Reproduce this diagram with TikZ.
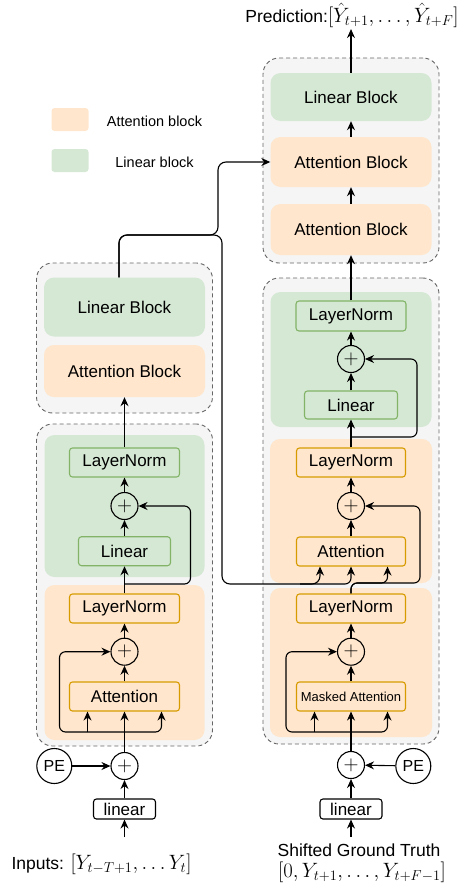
\documentclass[tikz,border=0pt]{standalone}
\usepackage{amsmath,amssymb}
\usepackage[no-math]{fontspec}
\setmainfont{Liberation Sans}
\usepackage{xcolor}
\usepackage{tikz}
\usetikzlibrary{positioning,shapes,arrows,arrows.meta}
\definecolor{attfill}{HTML}{FFE6CC}
\definecolor{attline}{HTML}{D79B00}
\definecolor{linfill}{HTML}{D5E8D4}
\definecolor{linline}{HTML}{82B366}
\definecolor{grpfill}{HTML}{F5F5F5}
\definecolor{grpline}{HTML}{666666}
\newcommand{\bigmath}[1]{{\fontsize{21}{24}\selectfont$#1$}}

\begin{document}
\begin{tikzpicture}[x=1pt, y=-1pt, >={Stealth[length=9pt,width=8pt,inset=3pt]},
    group/.style={rectangle, draw=grpline, fill=grpfill, dash pattern=on 4pt off 3pt, line width=0.9pt, rounded corners=16pt, inner sep=0pt},
    panel/.style={rectangle, rounded corners=10pt, inner sep=0pt, font=\fontsize{17}{20}\selectfont},
    attpanel/.style={panel, fill=attfill},
    linpanel/.style={panel, fill=linfill},
    box/.style={rectangle, draw, rounded corners=3pt, line width=1.1pt, inner sep=0pt, font=\fontsize{17}{20}\selectfont},
    attbox/.style={box, draw=attline, fill=attfill},
    linbox/.style={box, draw=linline, fill=linfill},
    add/.style={circle, draw, line width=1.1pt, minimum size=27pt, inner sep=0pt, font=\fontsize{22}{22}\selectfont},
    pe/.style={circle, draw, line width=1.1pt, minimum size=35pt, inner sep=0pt, font=\fontsize{16}{18}\selectfont},
    inbox/.style={box, fill=white, minimum width=62pt, minimum height=20pt},
    txt/.style={inner sep=1pt, anchor=base, font=\fontsize{17.5}{20}\selectfont},
    legtxt/.style={inner sep=1pt, font=\fontsize{14.5}{17}\selectfont},
    wire/.style={line width=1.1pt, rounded corners=6pt}]
    \useasboundingbox (0,0) rectangle (468,889);

    \node [group, minimum width=176pt, minimum height=205pt] (tgrp) at (351,160.5) {};
    \node [linpanel, minimum width=161pt, minimum height=48pt] (tlin) at (351,97) {Linear Block};
    \node [attpanel, minimum width=161pt, minimum height=50pt] (tatt1) at (351,162) {Attention Block};
    \node [attpanel, minimum width=161pt, minimum height=51pt] (tatt2) at (351,229.5) {Attention Block};
    \node [txt] (pred) at (352,22.7) {Prediction:\bigmath{[\hat{Y}_{t+1},\ldots,\hat{Y}_{t+F}]}};

    \node [attpanel, rounded corners=3pt, minimum width=37pt, minimum height=23pt] (legatt) at (70,119.5) {};
    \node [linpanel, rounded corners=3pt, minimum width=37pt, minimum height=23pt] (leglin) at (70,160.5) {};
    \node [legtxt] (legatttxt) at (154.5,121) {Attention block};
    \node [legtxt] (leglintxt) at (154.5,162) {Linear block};

    \node [group, minimum width=176pt, minimum height=150pt] (lgrp1) at (124.5,338) {};
    \node [linpanel, minimum width=161pt, minimum height=59pt] (llinb) at (124.5,307) {Linear Block};
    \node [attpanel, minimum width=161pt, minimum height=52pt] (lattb) at (124.5,371) {Attention Block};

    \node [group, minimum width=176pt, minimum height=322pt] (lgrp2) at (124.5,585) {};
    \node [linpanel, minimum width=160pt, minimum height=142pt] (llinp) at (124.5,506) {};
    \node [attpanel, minimum width=160pt, minimum height=155pt] (lattp) at (124.5,662.5) {};
    \node [linbox, minimum width=110pt, minimum height=29pt] (lln2) at (124.5,462.5) {LayerNorm};
    \node [add] (ladd2) at (124.5,506) {$+$};
    \node [linbox, minimum width=92pt, minimum height=29pt] (llin) at (124.5,551.2) {Linear};
    \node [attbox, minimum width=110pt, minimum height=29pt] (lln1) at (124.5,608.5) {LayerNorm};
    \node [add] (ladd1) at (124.5,651.7) {$+$};
    \node [attbox, minimum width=110pt, minimum height=29pt] (latt) at (124.5,696.5) {Attention};
    \node [add] (ladd0) at (124.5,766) {$+$};
    \node [pe] (lpe) at (54.3,766) {PE};
    \node [inbox] (lin) at (124.5,809) {linear};
    \node [txt] (inp) at (101.5,869.3) {Inputs: \bigmath{[Y_{t-T+1},\ldots Y_t]}};
    \coordinate (lsrc) at (124.5,837);

    \node [group, minimum width=176pt, minimum height=466pt] (rgrp) at (351,511) {};
    \node [linpanel, minimum width=161pt, minimum height=135pt] (rlinp) at (351,359.5) {};
    \node [attpanel, minimum width=162pt, minimum height=144pt] (ratt1p) at (351,511) {};
    \node [attpanel, minimum width=162pt, minimum height=149pt] (ratt2p) at (351,662.5) {};
    \node [linbox, minimum width=110pt, minimum height=30pt] (rln2) at (351,316) {LayerNorm};
    \node [add] (radd3) at (351,359) {$+$};
    \node [linbox, minimum width=93pt, minimum height=28pt] (rlin) at (351,405) {Linear};
    \node [attbox, minimum width=109pt, minimum height=29pt] (rln1) at (351,462.5) {LayerNorm};
    \node [add] (radd2) at (351,506) {$+$};
    \node [attbox, minimum width=109pt, minimum height=29pt] (ratt) at (351,551.5) {Attention};
    \node [attbox, minimum width=109pt, minimum height=29pt] (rln0) at (351,608.5) {LayerNorm};
    \node [add] (radd1) at (351,651.7) {$+$};
    \node [attbox, minimum width=109pt, minimum height=29pt, font=\fontsize{13}{15}\selectfont] (rmask) at (351,696.5) {Masked Attention};
    \node [add] (radd0) at (351,765) {$+$};
    \node [pe] (rpe) at (413.3,766) {PE};
    \node [inbox] (rin) at (351,809) {linear};
    \node [txt] (gt) at (359,856.7) {Shifted Ground Truth};
    \node [txt] (gtmath) at (362,877) {\bigmath{[0,Y_{t+1},\ldots,Y_{t+F-1}]}};
    \coordinate (rsrc) at (351,837);

    \coordinate (lsplit0) at (124.5,732);
    \coordinate (lsplit1) at (124.5,584);
    \coordinate (encup) at (218,235);
    \coordinate (encdown) at (222,584);
    \coordinate (kv) at (300,584);
    \coordinate (rq) at (351,583);
    \coordinate (rsplit2) at (351,437);
    \coordinate (rsplit0) at (351,732);

    \draw [wire, ->] (lsrc) -- (lin);
    \draw [wire, ->] (lin) -- (ladd0);
    \draw [wire, ->] (lpe) -- (ladd0);
    \draw [wire, ->] (ladd0) -- (latt);
    \draw [wire, ->] (lsplit0) -| ([xshift=37pt]latt.south);
    \draw [wire, ->] ([xshift=-37pt]latt.south |- lsplit0) -- ([xshift=-37pt]latt.south);
    \draw [wire, ->] (lsplit0) -- ++(-65,0) |- (ladd1);
    \draw [wire, ->] (latt) -- (ladd1);
    \draw [wire, ->] (ladd1) -- (lln1);
    \draw [wire, ->] (lln1) -- (llin);
    \draw [wire, ->] (lsplit1) -- ++(66,0) |- (ladd2);
    \draw [wire, ->] (llin) -- (ladd2);
    \draw [wire, ->] (ladd2) -- (lln2);
    \draw [wire, ->] (lln2) -- (lattb);

    \draw [wire, ->, rounded corners=8pt] ([xshift=-5.5pt]llinb.north) |- (encup) |- (tatt1);
    \draw [wire, ->, rounded corners=8pt] ([xshift=-5.5pt]llinb.north) |- (encdown |- encup) -- (encdown) -| ([xshift=-31pt]ratt.south);
    \draw [wire, ->] (kv) -| (ratt);
    \draw [wire, ->] (rln0) -- (rq) -| ([xshift=36.5pt]ratt.south);
    \draw [wire, ->] (rln0) -- (rq) -- ++(69,0) |- (radd2);

    \draw [wire, ->] (rsrc) -- (rin);
    \draw [wire, ->] (rin) -- (radd0);
    \draw [wire, ->] (rpe) -- (radd0);
    \draw [wire, ->] (radd0) -- (rmask);
    \draw [wire, ->] (rsplit0) -| ([xshift=36.5pt]rmask.south);
    \draw [wire, ->] ([xshift=-36.5pt]rmask.south |- rsplit0) -- ([xshift=-36.5pt]rmask.south);
    \draw [wire, ->] (rsplit0) -- ++(-65,0) |- (radd1);
    \draw [wire, ->] (rmask) -- (radd1);
    \draw [wire, ->] (radd1) -- (rln0);
    \draw [wire, ->] (ratt) -- (radd2);
    \draw [wire, ->] (radd2) -- (rln1);
    \draw [wire, ->] (rln1) -- (rlin);
    \draw [wire, ->] (rsplit2) -- ++(66,0) |- (radd3);
    \draw [wire, ->] (rlin) -- (radd3);
    \draw [wire, ->] (radd3) -- (rln2);
    \draw [wire, ->] (rln2) -- (tatt2);
    \draw [wire, ->] (tatt2) -- (tatt1);
    \draw [wire, ->] (tatt1) -- (tlin);
    \draw [wire, ->] (tlin) -- (tlin |- pred.south);
\end{tikzpicture}
\end{document}
